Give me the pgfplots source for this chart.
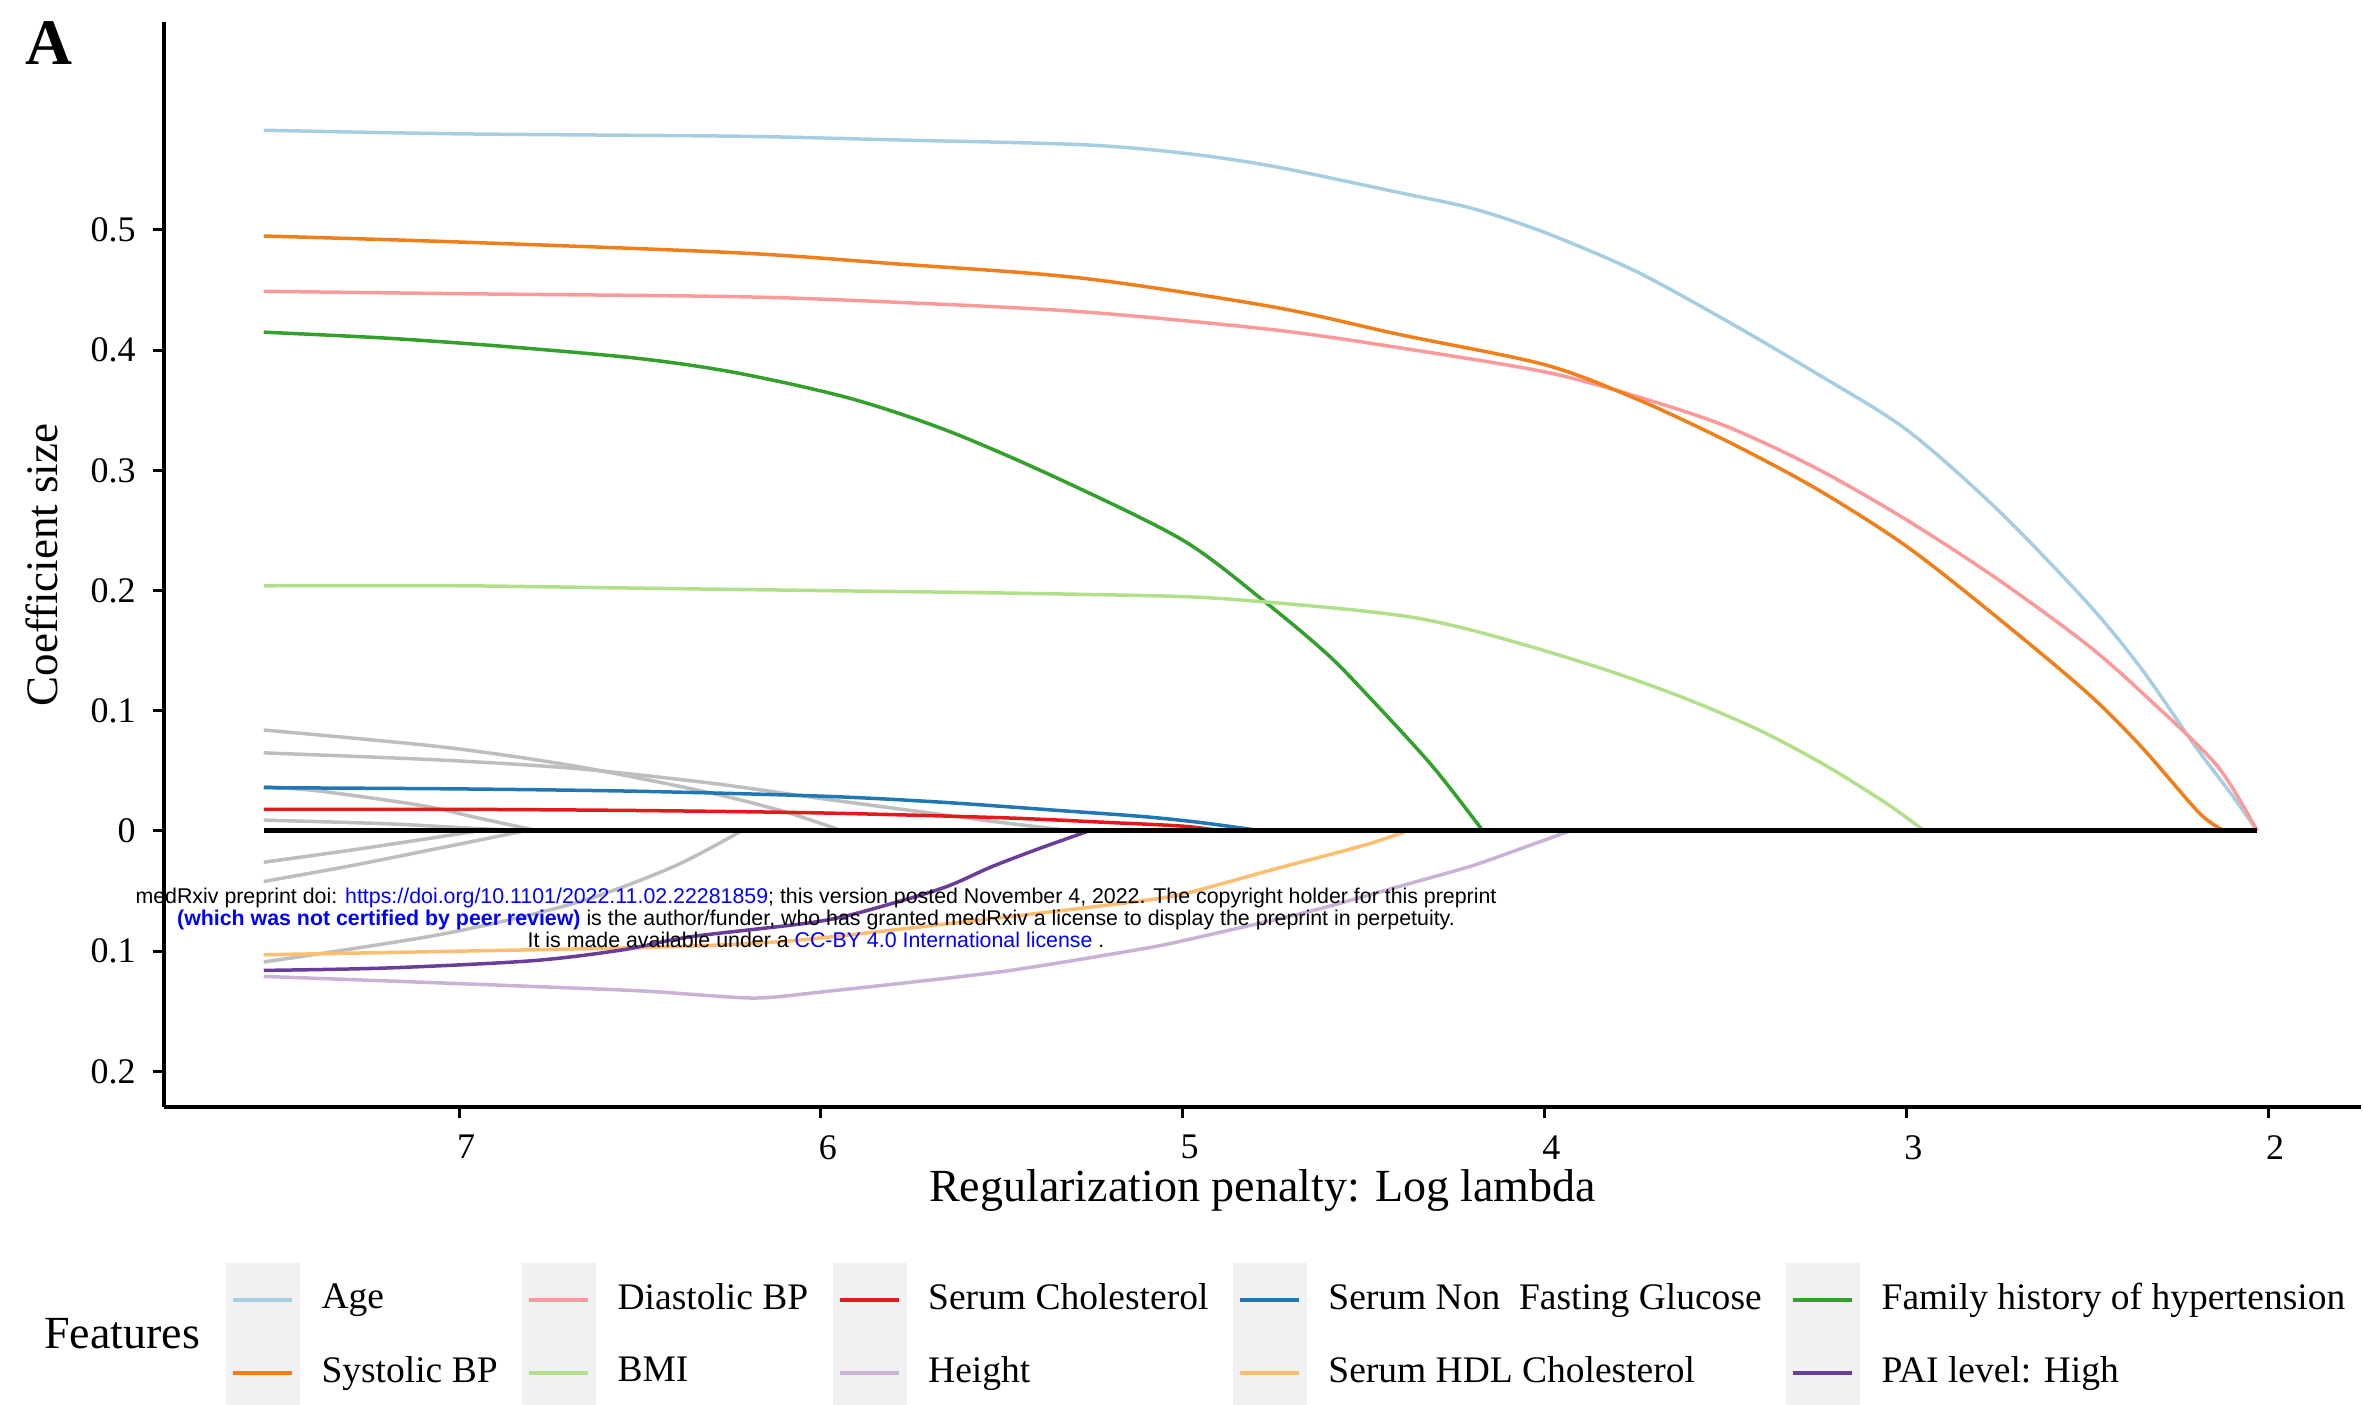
\documentclass[border=0pt]{standalone}
\usepackage{fontspec}
\setmainfont{Liberation Serif}
\newfontfamily\wmfont{Liberation Sans}
\usepackage{pgfplots}
\pgfplotsset{compat=1.18}
\definecolor{cAge}{HTML}{A6CEE3}
\definecolor{cSys}{HTML}{F07F1A}
\definecolor{cDia}{HTML}{FB9A99}
\definecolor{cBMI}{HTML}{B2DF8A}
\definecolor{cChol}{HTML}{E31A1C}
\definecolor{cHgt}{HTML}{CAB2D6}
\definecolor{cGlu}{HTML}{1F78B4}
\definecolor{cHDL}{HTML}{FDBF6F}
\definecolor{cFam}{HTML}{33A02C}
\definecolor{cPAI}{HTML}{6A3D9A}
\definecolor{keybg}{RGB}{240,241,243}
\definecolor{cGray}{RGB}{190,190,190}
\begin{document}
\begin{tikzpicture}
\useasboundingbox (0,0) rectangle (472.6pt,280.8pt);
\begin{axis}[
  at={(32.86pt,59.46pt)}, anchor=south west,
  scale only axis, width=439.34pt, height=217pt,
  x dir=reverse,
  xmin=1.743, xmax=7.815, ymin=-0.2294, ymax=0.6733,
  axis x line=bottom, axis y line=left,
  axis line style={-, line width=0.8pt, black},
  xtick={2,3,4,5,6,7},
  ytick={-0.2,-0.1,0,0.1,0.2,0.3,0.4,0.5},
  yticklabels={0.2,0.1,0,0.1,0.2,0.3,0.4,0.5},
  tick align=outside, major tick length=2.2pt,
  tick style={line width=0.6pt, black},
  /pgf/number format/assume math mode=true,
  tick label style={font=\fontsize{7.2}{8}\selectfont},
  xticklabel style={xshift=1.4pt},
  xlabel={Regularization penalty: Log lambda},
  ylabel={Coefficient size},
  xlabel style={at={(axis description cs:0.5,-0.0772)}, anchor=center, font=\fontsize{9.2}{11}\selectfont},
  ylabel style={at={(axis description cs:-0.0559,0.4993)}, anchor=center, font=\fontsize{9}{11}\selectfont},
  no markers,
  every axis plot/.append style={line width=0.7pt},
  legend columns=5,
  legend style={at={(axis description cs:0.0281,-0.1441)}, anchor=north west,
    draw=none, fill=none, inner sep=0pt, outer sep=0pt, row sep=0pt,
    font=\fontsize{7.5}{9}\selectfont,
    nodes={inner xsep=0pt, inner ysep=0pt, anchor=west},
    /tikz/every odd column/.append style={column sep=4.3pt},
    /tikz/every even column/.append style={column sep=4.9pt}},
  legend image code/.code={\fill[keybg] (0pt,-7pt) rectangle (14.1pt,7pt);
    \draw[#1,line width=0.8pt] (1.1pt,0pt) -- (12.8pt,0pt);},
]
% grey paths (unlabelled features)
\addplot[cGray, smooth, tension=0.5, forget plot] coordinates {(7.54,0.084)(7.05,0.070)(6.68,0.054)(6.31,0.032)(6.1,0.016)(5.94,0)};
\addplot[cGray, smooth, tension=0.5, forget plot] coordinates {(7.54,0.065)(7.05,0.059)(6.68,0.052)(6.31,0.040)(6.0,0.027)(5.7,0.015)(5.5,0.007)(5.3,0)};
\addplot[cGray, smooth, tension=0.5, forget plot] coordinates {(7.54,0.037)(7.38,0.033)(7.1,0.021)(6.95,0.011)(6.78,0)};
\addplot[cGray, smooth, tension=0.5, forget plot] coordinates {(7.54,0.009)(7.2,0.006)(6.95,0.002)(6.8,0)};
\addplot[cGray, smooth, tension=0.5, forget plot] coordinates {(7.54,-0.026)(7.3,-0.016)(7.1,-0.007)(6.95,0)};
\addplot[cGray, smooth, tension=0.5, forget plot] coordinates {(7.54,-0.042)(7.3,-0.029)(7.05,-0.014)(6.82,0)};
\addplot[cGray, smooth, tension=0.5, forget plot] coordinates {(7.54,-0.109)(7.05,-0.086)(6.68,-0.060)(6.41,-0.030)(6.22,0)};
% row 1 of legend
\addplot[cAge, smooth, tension=0.5] coordinates {(7.54,0.583)(7.0,0.580)(6.23,0.578)(5.8,0.575)(5.28,0.571)(5.0,0.564)(4.75,0.553)(4.4,0.531)(4.2,0.518)(4.0,0.498)(3.75,0.466)(3.5,0.425)(3.25,0.381)(3.0,0.334)(2.75,0.268)(2.5,0.19)(2.35,0.135)(2.2,0.07)(2.1,0.03)(2.03,0.0)};
\addlegendentry{Age}
\addplot[cDia, smooth, tension=0.5] coordinates {(7.54,0.449)(7.0,0.447)(6.23,0.4445)(5.8,0.440)(5.28,0.432)(4.75,0.417)(4.4,0.402)(4.0,0.382)(3.75,0.362)(3.5,0.337)(3.25,0.302)(3.0,0.259)(2.75,0.21)(2.5,0.155)(2.33,0.11)(2.14,0.054)(2.03,0)};
\addlegendentry{Diastolic BP}
\addplot[cChol, smooth, tension=0.5] coordinates {(7.54,0.018)(7.0,0.018)(6.5,0.017)(6.0,0.015)(5.5,0.011)(5.2,0.007)(5.0,0.004)(4.89,0.0)};
\addlegendentry{Serum Cholesterol}
\addplot[cGlu, smooth, tension=0.5] coordinates {(7.54,0.036)(7.0,0.035)(6.5,0.033)(6.0,0.029)(5.67,0.024)(5.34,0.017)(5.11,0.012)(4.95,0.007)(4.78,0.0)};
\addlegendentry{Serum Non~~Fasting Glucose}
\addplot[cFam, smooth, tension=0.5] coordinates {(7.54,0.415)(7.2,0.410)(6.87,0.403)(6.5,0.393)(6.23,0.381)(5.92,0.36)(5.65,0.333)(5.35,0.294)(5.0,0.242)(4.77,0.19)(4.6,0.147)(4.48,0.11)(4.31,0.054)(4.17,0.0)};
\addlegendentry{Family history of hypertension}
% row 2 of legend
\addplot[cSys, smooth, tension=0.5] coordinates {(7.54,0.495)(7.0,0.490)(6.23,0.481)(5.8,0.472)(5.28,0.460)(4.75,0.436)(4.4,0.413)(4.0,0.388)(3.75,0.36)(3.5,0.325)(3.25,0.285)(3.0,0.237)(2.75,0.178)(2.5,0.115)(2.35,0.07)(2.19,0.015)(2.12,0.0)};
\addlegendentry{Systolic BP}
\addplot[cBMI, smooth, tension=0.5] coordinates {(7.54,0.204)(7.0,0.204)(6.5,0.202)(6.0,0.200)(5.5,0.198)(5.0,0.195)(4.75,0.190)(4.5,0.183)(4.35,0.177)(4.2,0.167)(4.0,0.150)(3.8,0.131)(3.6,0.109)(3.4,0.083)(3.22,0.054)(3.05,0.022)(2.95,0.0)};
\addlegendentry{BMI}
\addplot[cHgt, smooth, tension=0.4] coordinates {(7.54,-0.121)(7.0,-0.127)(6.5,-0.133)(6.19,-0.139)(6.0,-0.134)(5.5,-0.117)(5.11,-0.098)(4.98,-0.090)(4.65,-0.067)(4.4,-0.046)(4.2,-0.029)(4.05,-0.013)(3.93,0)};
\addlegendentry{Height}
\addplot[cHDL, smooth, tension=0.5] coordinates {(7.54,-0.103)(7.0,-0.100)(6.5,-0.097)(6.22,-0.094)(6.0,-0.089)(5.5,-0.072)(5.11,-0.058)(4.98,-0.051)(4.75,-0.032)(4.5,-0.012)(4.38,0)};
\addlegendentry{Serum HDL Cholesterol}
\addplot[cPAI, smooth, tension=0.5] coordinates {(7.54,-0.116)(7.2,-0.114)(6.8,-0.108)(6.55,-0.099)(6.36,-0.088)(6.0,-0.075)(5.8,-0.06)(5.65,-0.046)(5.53,-0.03)(5.4,-0.015)(5.26,0)};
\addlegendentry{PAI level: High}
% zero paths
\addplot[black, line width=1pt, forget plot] coordinates {(7.54,0)(2.03,0)};
\end{axis}
\node[font=\bfseries\fontsize{13}{15}\selectfont] at (9.7pt,272.2pt) {A};
\node[font=\fontsize{9.2}{11}\selectfont] at (24.4pt,14pt) {Features};
\node[font=\wmfont\fontsize{4.27}{4.37}\selectfont, align=center, inner sep=0pt] at (163.2pt,97.2pt)
 {medRxiv preprint doi: \textcolor{blue}{https://doi.org/10.1101/2022.11.02.22281859}; this version posted November 4, 2022. The copyright holder for this preprint\\
 \textcolor{blue}{\bfseries (which was not certified by peer review)} is the author/funder, who has granted medRxiv a license to display the preprint in perpetuity.\\
 It is made available under a \textcolor{blue}{CC-BY 4.0 International license} .};
\end{tikzpicture}
\end{document}
